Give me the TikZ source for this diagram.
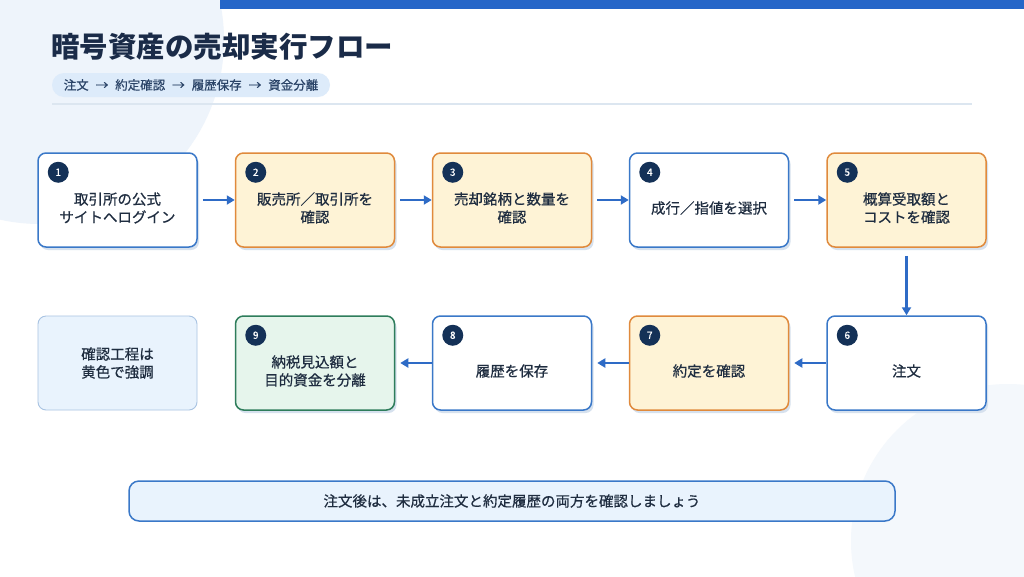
\documentclass[tikz,border=0pt]{standalone}
\usepackage{fontspec}
\setmainfont{Noto Sans CJK JP}
\newfontfamily\medfont{Noto Sans CJK JP}[FakeBold=0.6]
\usetikzlibrary{arrows.meta}
\definecolor{bgc}{HTML}{EEF4FB}
\definecolor{bgc2}{HTML}{F4F8FC}
\definecolor{barc}{HTML}{2566C8}
\definecolor{titlec}{HTML}{1A2B48}
\definecolor{txtc}{HTML}{1F2D40}
\definecolor{pillc}{HTML}{DDEBFA}
\definecolor{pilltxt}{HTML}{2B4468}
\definecolor{rulec}{HTML}{DCE6F0}
\definecolor{blueb}{HTML}{3A78C8}
\definecolor{yelf}{HTML}{FEF3D6}
\definecolor{yelb}{HTML}{E08A3C}
\definecolor{grnf}{HTML}{E6F5EC}
\definecolor{grnb}{HTML}{2E7D5B}
\definecolor{legf}{HTML}{E9F3FD}
\definecolor{legb}{HTML}{A8C3E2}
\definecolor{numc}{HTML}{143157}
\definecolor{arrc}{HTML}{2E6BC6}
\definecolor{shadc}{HTML}{D6E1EE}
\tikzset{
  card/.style={rectangle, rounded corners=8pt, minimum width=159pt, minimum height=94pt, line width=1.5pt, inner sep=0pt,
    preaction={fill=shadc, transform canvas={xshift=2pt,yshift=-3pt}}},
  plain/.style={card, draw=blueb, fill=white},
  yel/.style={card, draw=yelb, fill=yelf},
  grn/.style={card, draw=grnb, fill=grnf},
  leg/.style={rectangle, rounded corners=8pt, minimum width=159pt, minimum height=94pt, line width=0.9pt, draw=legb, fill=legf, inner sep=0pt},
  lbl/.style={text=txtc, font=\medfont\fontsize{14.5pt}{18pt}\selectfont, align=center, inner sep=0pt},
  num/.style={circle, fill=numc, minimum size=21pt, inner sep=0pt, text=white, font=\medfont\fontsize{10pt}{10pt}\selectfont},
  arr/.style={draw=arrc, line width=2.5pt, -{Triangle[length=8pt,width=9pt]}}
}
\begin{document}
\begin{tikzpicture}[x=1pt,y=-1pt]
\useasboundingbox (0,0) rectangle (1024,576);
\fill[white] (0,0) rectangle (1024,576);
\fill[bgc] (40,40) circle (184);
\fill[bgc2] (1008,541) circle (157);
\fill[barc] (220,0) rectangle (1024,9);
% title
\node[anchor=west, text=titlec, font=\bfseries\fontsize{28.5pt}{30pt}\selectfont, inner sep=0pt] (title) at (51,47) {暗号資産の売却実行フロー};
\node[rectangle, rounded corners=12pt, fill=pillc, minimum width=278pt, minimum height=24pt, inner sep=0pt] (pill) at (191,85) {};
\node[text=pilltxt, font=\medfont\fontsize{12.5pt}{14pt}\selectfont, inner sep=0pt] (pilltext) at (pill.center) {注文\hspace{7pt}→\hspace{7pt}約定確認\hspace{7pt}→\hspace{7pt}履歴保存\hspace{7pt}→\hspace{7pt}資金分離};
\draw[rulec, line width=1.2pt] (52,104) -- (972,104);
% row 1
\node[plain] (b1) at (117.5,200) {};
\node[yel]   (b2) at (315,200) {};
\node[yel]   (b3) at (512,200) {};
\node[plain] (b4) at (709,200) {};
\node[yel]   (b5) at (906.5,200) {};
% row 2
\node[plain] (b6) at (906.5,363) {};
\node[yel]   (b7) at (709,363) {};
\node[plain] (b8) at (512,363) {};
\node[grn]   (b9) at (315,363) {};
\node[leg]   (lg) at (117.5,363) {};
% numbers
\foreach \b/\n in {b1/1,b2/2,b3/3,b4/4,b5/5,b6/6,b7/7,b8/8,b9/9}{
  \node[num] (n\n) at ([xshift=21pt,yshift=-20pt]\b.north west) {\n};
}
% labels
\node[lbl] (t1) at ([yshift=-8pt]b1.center) {取引所の公式\\サイトへログイン};
\node[lbl] (t2) at ([yshift=-8pt]b2.center) {販売所／取引所を\\確認};
\node[lbl] (t3) at ([yshift=-8pt]b3.center) {売却銘柄と数量を\\確認};
\node[lbl] (t4) at ([yshift=-8pt]b4.center) {成行／指値を選択};
\node[lbl] (t5) at ([yshift=-8pt]b5.center) {概算受取額と\\コストを確認};
\node[lbl] (t6) at ([yshift=-8pt]b6.center) {注文};
\node[lbl] (t7) at ([yshift=-8pt]b7.center) {約定を確認};
\node[lbl] (t8) at ([yshift=-8pt]b8.center) {履歴を保存};
\node[lbl] (t9) at ([yshift=-8pt]b9.center) {納税見込額と\\目的資金を分離};
\node[lbl] (tl) at (lg.center) {確認工程は\\黄色で強調};
% arrows
\draw[arr] ([xshift=5pt]b1.east) -- (b2.west);
\draw[arr] ([xshift=5pt]b2.east) -- (b3.west);
\draw[arr] ([xshift=5pt]b3.east) -- (b4.west);
\draw[arr] ([xshift=5pt]b4.east) -- (b5.west);
\draw[arr] ([yshift=-8pt]b5.south) -- (b6.north);
\draw[arr] (b6.west) -- ([xshift=5pt]b7.east);
\draw[arr] (b7.west) -- ([xshift=5pt]b8.east);
\draw[arr] (b8.west) -- ([xshift=5pt]b9.east);
% note
\node[rectangle, rounded corners=10pt, draw=blueb, fill=legf, line width=1.5pt, minimum width=766pt, minimum height=40pt, inner sep=0pt] (note) at (512,501) {};
\node[lbl] (notetext) at (note.center) {注文後は、未成立注文と約定履歴の両方を確認しましょう};
\end{tikzpicture}
\end{document}
